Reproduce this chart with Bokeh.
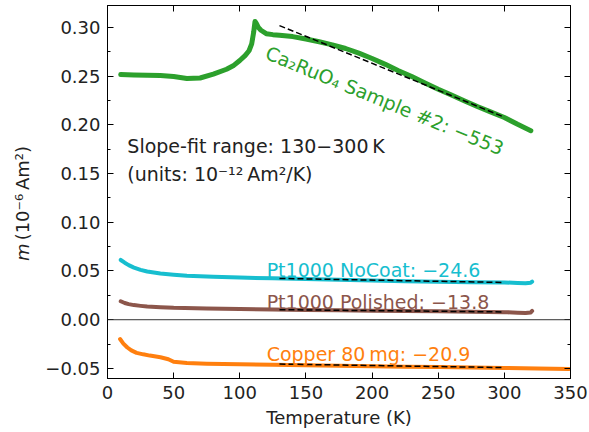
import math
from bokeh.plotting import figure
from bokeh.layouts import row
from bokeh.models import LinearAxis, FixedTicker, Range1d, Label, Span, CustomLabelingPolicy
from bokeh.embed import file_html
from bokeh.resources import INLINE

# ---- data ----
ca_T = [10, 20, 30, 40, 50, 60, 70, 80, 90, 95, 100, 104, 107, 109, 110.5, 111.5,
        112.5, 114, 116, 120, 125, 130, 140, 150, 160, 170, 180, 190, 200, 210, 220,
        230, 240, 250, 260, 270, 280, 290, 300, 310, 320]
ca_m = [0.2515, 0.2512, 0.2508, 0.2505, 0.2495, 0.2475, 0.2480, 0.2520, 0.2570, 0.2605,
        0.2660, 0.2710, 0.2760, 0.2830, 0.2950, 0.3060, 0.3040, 0.3000, 0.2970, 0.2935,
        0.2925, 0.2918, 0.2905, 0.2880, 0.2852, 0.2820, 0.2783, 0.2735, 0.2680, 0.2620,
        0.2555, 0.2495, 0.2430, 0.2365, 0.2305, 0.2245, 0.2185, 0.2130, 0.2075, 0.2005,
        0.1940]

nocoat_T = [10, 13, 16, 20, 25, 30, 40, 50, 60, 80, 100, 125, 150, 175, 200, 225, 250,
            275, 300, 310, 316, 320, 321]
nocoat_m = [0.0613, 0.0585, 0.0560, 0.0535, 0.0512, 0.0495, 0.0475, 0.0462, 0.0452,
            0.0440, 0.0432, 0.0425, 0.0418, 0.0410, 0.0402, 0.0395, 0.0390, 0.0385,
            0.0382, 0.0378, 0.0374, 0.0380, 0.0390]

polished_T = [10, 13, 16, 20, 25, 30, 40, 50, 75, 100, 125, 150, 175, 200, 225, 250,
              275, 300, 310, 316, 320, 321]
polished_m = [0.0190, 0.0172, 0.0160, 0.0150, 0.0142, 0.0135, 0.0128, 0.0122, 0.0115,
              0.0110, 0.0105, 0.0100, 0.0096, 0.0093, 0.0090, 0.0086, 0.0082, 0.0078,
              0.0072, 0.0068, 0.0075, 0.0090]

copper_T = [9.5, 12, 15, 18, 22, 27, 32, 40, 46, 50, 60, 75, 100, 125, 150, 175, 200,
            225, 250, 275, 300, 325, 349]
copper_m = [-0.0198, -0.0245, -0.0285, -0.0315, -0.0340, -0.0355, -0.0368, -0.0385,
            -0.0405, -0.0432, -0.0445, -0.0452, -0.0458, -0.0463, -0.0468, -0.0473,
            -0.0478, -0.0482, -0.0486, -0.0490, -0.0495, -0.0500, -0.0505]

fit_T = [130, 300]
ca_fit = [0.3018, 0.2078]
nocoat_fit = [0.0424, 0.0382]
polished_fit = [0.0103, 0.0080]
copper_fit = [-0.0455, -0.0491]

series_labels = ["Ca\u2082RuO\u2084 Sample #2: \u2212553",
                 "Pt1000 NoCoat: \u221224.6",
                 "Pt1000 Polished: \u221213.8",
                 "Copper 80\u2009mg: \u221220.9"]

x_ticks = [0, 50, 100, 150, 200, 250, 300, 350]
y_ticks = [-0.05, 0.0, 0.05, 0.10, 0.15, 0.20, 0.25, 0.30]
y_tick_labels = ["\u22120.05", "0.00", "0.05", "0.10", "0.15", "0.20", "0.25", "0.30"]
y_minor = [-0.025, 0.025, 0.075, 0.125, 0.175, 0.225, 0.275]

GREEN = "#2ca02c"
CYAN = "#17becf"
BROWN = "#8c564b"
ORANGE = "#ff7f0e"
FONT = "DejaVu Sans"
INK = "#222222"

LW = 40  # width of the strip that carries the y-axis title

p = figure(width=589 - LW, height=432, output_backend="svg", toolbar_location=None,
           x_range=Range1d(0, 350), y_range=Range1d(-0.0603, 0.3224),
           min_border_left=107 - LW, min_border_right=19, min_border_top=5,
           min_border_bottom=54)
p.grid.visible = False
p.outline_line_color = "black"
p.outline_line_width = 1
p.background_fill_color = "white"
p.border_fill_color = "white"

overrides = {t: lab for t, lab in zip(y_ticks, y_tick_labels)}
hide = CustomLabelingPolicy(code="""
for (const i of Array.from(indices)) indices.unset(i)
return indices
""")


def style(ax, show_labels=True):
    ax.major_tick_in = 6
    ax.major_tick_out = 0
    ax.minor_tick_in = 3
    ax.minor_tick_out = 0
    ax.axis_line_color = "black"
    ax.major_tick_line_color = "black"
    ax.minor_tick_line_color = "black"
    ax.major_label_text_font = FONT
    ax.major_label_text_color = INK
    ax.axis_label_text_font = FONT
    ax.axis_label_text_font_style = "normal"
    ax.axis_label_text_color = INK
    if show_labels:
        ax.major_label_text_font_size = "18px"
        ax.major_label_standoff = 7
    else:
        ax.major_label_text_font_size = "0px"
        ax.major_label_standoff = 0
        ax.major_label_policy = hide


p.xaxis.ticker = FixedTicker(ticks=x_ticks, minor_ticks=[])
p.yaxis.ticker = FixedTicker(ticks=y_ticks, minor_ticks=y_minor)
p.yaxis.major_label_overrides = overrides
style(p.xaxis[0])
style(p.yaxis[0])
p.xaxis.axis_label = "Temperature (K)"
p.xaxis.axis_label_text_font_size = "18px"
p.xaxis.axis_label_standoff = 5

top = LinearAxis(ticker=FixedTicker(ticks=x_ticks, minor_ticks=[]))
style(top, False)
p.add_layout(top, "above")
right = LinearAxis(ticker=FixedTicker(ticks=y_ticks, minor_ticks=y_minor))
style(right, False)
p.add_layout(right, "right")

p.add_layout(Span(location=0, dimension="width", line_color="#333333", line_width=1))

for T, m, c, w in [(ca_T, ca_m, GREEN, 5), (nocoat_T, nocoat_m, CYAN, 4),
                   (polished_T, polished_m, BROWN, 4), (copper_T, copper_m, ORANGE, 4)]:
    p.line(T, m, line_color=c, line_width=w, line_cap="round", line_join="round")

for fit in [ca_fit, nocoat_fit, polished_fit, copper_fit]:
    p.line(fit_T, fit, line_color="black", line_width=1.5, line_dash="6 3")

ann = [(series_labels[0], 0.2748, GREEN, -0.391),
       (series_labels[1], 0.051, CYAN, 0.0),
       (series_labels[2], 0.0178, BROWN, 0.0),
       (series_labels[3], -0.0352, ORANGE, 0.0)]
for txt, yy, c, ang in ann:
    p.add_layout(Label(x=120.3, y=yy, text=txt, text_color=c, angle=ang,
                       text_font=FONT, text_font_size="19px",
                       text_baseline="alphabetic", text_align="left"))

p.add_layout(Label(x=15, y=0.1786, text="Slope-fit range: 130\u2212300\u2009K",
                   text_color=INK, text_font=FONT, text_font_size="19px",
                   text_baseline="alphabetic"))
p.add_layout(Label(x=15, y=0.1496, text="(units: 10\u207b\u00b9\u00b2\u2009Am\u00b2/K)",
                   text_color=INK, text_font=FONT, text_font_size="19px",
                   text_baseline="alphabetic"))

# narrow strip on the left carrying the y-axis title: italic "m" + "(10^-6 Am^2)"
s = figure(width=LW, height=432, output_backend="svg", toolbar_location=None,
           x_range=Range1d(0, LW), y_range=Range1d(0, 432),
           x_axis_location=None, y_axis_location=None,
           min_border_left=0, min_border_right=0, min_border_top=0, min_border_bottom=0)
s.grid.visible = False
s.outline_line_color = None
s.background_fill_color = "white"
s.border_fill_color = "white"
s.add_layout(Label(x=22, y=136, text="m", angle=math.pi / 2,
                   text_font=FONT, text_font_style="italic", text_font_size="18px",
                   text_color=INK, text_baseline="alphabetic", text_align="left"))
s.add_layout(Label(x=22, y=160, text="(10\u207b\u2076\u2009Am\u00b2)", angle=math.pi / 2,
                   text_font=FONT, text_font_size="18px",
                   text_color=INK, text_baseline="alphabetic", text_align="left"))

layout = row(s, p, spacing=0)
open("out.html", "w").write(file_html(layout, INLINE))
